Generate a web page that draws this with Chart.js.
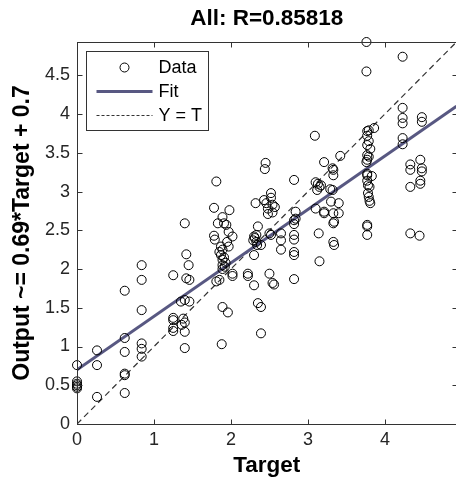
<!DOCTYPE html>
<html><head><meta charset="utf-8">
<script src="https://cdn.jsdelivr.net/npm/chart.js@4"></script>
<style>
html,body{margin:0;padding:0;background:#fff;overflow:hidden;width:456px;height:481px}
#wrap{width:462px;height:481px}
</style></head>
<body><div id="wrap"><canvas id="c" width="462" height="481"></canvas></div>
<script>
const titleText = 'All: R=0.85818';
const xTitle = 'Target';
const yTitle = 'Output ~= 0.69*Target + 0.7';
const legendLabels = ['Data', 'Fit', 'Y = T'];
const axisRange = [0, 4.93];
const xTickValues = [0, 1, 2, 3, 4];
const yTickValues = [0, 0.5, 1, 1.5, 2, 2.5, 3, 3.5, 4, 4.5];
const fitSlope = 0.69;
const fitIntercept = 0.7;

const targets = [
  0,0,0,0,0,0,
  0.26,0.26,0.26,
  0.62,0.62,0.62,0.62,0.62,0.62,
  0.84,0.84,0.84,0.84,0.84,0.84,
  1.25,1.25,1.25,1.25,1.25,
  1.40,1.42,1.45,1.42,1.46,1.35,1.40,1.46,1.38,1.40,1.40,1.40,1.36,
  1.81,1.78,1.98,1.89,1.83,1.91,1.94,1.97,1.78,1.79,2.02,1.87,1.97,1.89,1.87,1.89,1.89,1.89,1.92,2.02,2.02,1.81,1.85,1.89,1.96,1.88,1.91,1.93,1.85,1.95,
  2.32,2.35,2.33,2.31,2.29,2.33,2.30,2.22,2.22,2.30,2.35,2.39,2.39,2.30,2.34,
  2.45,2.44,2.52,2.52,2.43,2.46,2.57,2.54,2.48,2.54,2.50,2.52,2.39,2.50,2.54,2.56,2.48,
  2.65,2.65,2.65,
  2.82,2.84,2.84,2.82,2.82,2.82,2.82,2.82,2.82,2.82,
  3.09,3.10,3.13,3.15,3.12,3.17,3.10,3.14,3.15,3.21,3.21,3.21,
  3.32,3.33,3.32,3.29,3.30,3.40,3.40,3.33,3.33,3.34,3.33,3.34,3.42,3.33,
  3.76,3.76,3.77,3.79,3.86,3.77,3.79,3.77,3.81,3.77,3.79,3.76,3.77,3.77,3.77,3.83,3.77,3.78,3.80,3.78,3.79,3.80,3.81,3.77,3.77,3.77,
  4.23,4.23,4.23,4.23,4.48,4.48,4.23,4.23,4.33,4.46,4.48,4.33,4.48,4.46,4.33,4.46,4.33,4.45
];
const outputs = [
  0.76,0.55,0.52,0.50,0.48,0.46,
  0.95,0.76,0.35,
  1.72,1.11,0.93,0.65,0.63,0.40,
  2.05,1.86,1.47,1.04,0.97,0.87,
  1.92,1.37,1.34,1.24,1.20,
  2.59,2.19,2.05,1.88,1.86,1.58,1.60,1.58,1.36,1.31,1.19,0.98,1.28,
  3.13,2.79,2.76,2.67,2.59,2.59,2.57,2.48,2.43,2.38,2.42,2.29,2.29,2.25,2.18,2.12,2.05,2.00,2.03,1.94,1.91,1.84,1.86,1.51,1.44,1.03,2.15,2.08,2.22,2.35,
  2.85,2.55,2.44,2.40,2.37,2.35,2.18,1.94,1.91,1.79,1.56,1.51,1.17,2.42,2.31,
  3.37,3.29,2.98,2.92,2.89,2.85,2.80,2.83,2.78,2.73,2.46,2.44,2.31,1.94,1.82,1.80,2.71,
  2.46,2.37,2.25,
  3.15,2.74,2.65,2.58,2.44,2.38,2.22,2.18,1.87,2.63,
  3.72,3.12,3.10,3.06,3.02,3.08,2.78,2.46,2.10,2.74,3.38,2.72,
  3.30,3.21,3.02,3.03,2.87,2.85,2.72,2.72,2.59,2.61,2.35,2.31,3.46,3.28,
  4.93,4.55,3.78,3.79,3.82,3.72,3.65,3.60,3.55,3.47,3.45,3.38,3.41,3.23,3.21,3.20,3.14,3.08,3.06,2.98,2.93,2.88,2.85,2.57,2.55,2.44,
  4.74,4.08,3.95,3.88,3.96,3.90,3.69,3.61,3.35,3.41,3.30,3.28,3.26,3.14,3.06,3.10,2.46,2.43
];

const FONT = "'Liberation Sans', Arial, sans-serif";
const points = targets.map((t, i) => ({ x: t, y: outputs[i] }));
const fitLine = axisRange.map(t => ({ x: t, y: fitSlope * t + fitIntercept }));
const idLine = axisRange.map(t => ({ x: t, y: t }));

const fitColor = 'rgb(88,88,130)';
const idColor = '#333';
const idDash = [6, 4];

const framePlugin = {
  id: 'frame',
  beforeDraw(chart) {
    const ctx = chart.ctx;
    ctx.save();
    ctx.fillStyle = '#fff';
    ctx.fillRect(0, 0, chart.width, chart.height);
    ctx.restore();
  },
  afterDraw(chart) {
    const ctx = chart.ctx;
    const ca = chart.chartArea;
    const xs = chart.scales.x, ys = chart.scales.y;
    ctx.save();
    ctx.strokeStyle = '#333';
    ctx.lineWidth = 1;
    const L = Math.round(ca.left) + 0.5, T = Math.round(ca.top) + 0.5;
    const R = Math.round(ca.right) + 0.5, B = Math.round(ca.bottom) + 0.5;
    ctx.strokeRect(L, T, R - L, B - T);
    const tl = 5;
    ctx.beginPath();
    xTickValues.forEach(v => {
      const p = Math.round(xs.getPixelForValue(v)) + 0.5;
      ctx.moveTo(p, B); ctx.lineTo(p, B - tl);
      ctx.moveTo(p, T); ctx.lineTo(p, T + tl);
    });
    yTickValues.forEach(v => {
      const p = Math.round(ys.getPixelForValue(v)) + 0.5;
      ctx.moveTo(L, p); ctx.lineTo(L + tl, p);
      ctx.moveTo(R, p); ctx.lineTo(R - tl, p);
    });
    ctx.stroke();

    // legend
    const bx = Math.round(ca.left) + 9.5, by = Math.round(ca.top) + 9.5, bw = 122, bh = 79;
    ctx.fillStyle = '#fff';
    ctx.fillRect(bx, by, bw, bh);
    ctx.strokeStyle = '#333';
    ctx.strokeRect(bx, by, bw, bh);
    const rows = [by + 16, by + 40, by + 64];
    const sx0 = bx + 10, sx1 = bx + 66;
    const ds = chart.data.datasets;
    ctx.beginPath();
    ctx.arc(bx + 38, rows[0], 4.5, 0, Math.PI * 2);
    ctx.strokeStyle = '#000';
    ctx.lineWidth = 1;
    ctx.stroke();
    ctx.beginPath();
    ctx.strokeStyle = fitColor; ctx.lineWidth = 3;
    ctx.moveTo(sx0, rows[1]); ctx.lineTo(sx1, rows[1]); ctx.stroke();
    ctx.beginPath();
    ctx.strokeStyle = idColor; ctx.lineWidth = 1; ctx.setLineDash([3, 2]);
    ctx.moveTo(sx0, rows[2]); ctx.lineTo(sx1, rows[2]); ctx.stroke();
    ctx.setLineDash([]);
    ctx.fillStyle = '#000';
    ctx.font = '18px ' + FONT;
    ctx.textBaseline = 'middle';
    ctx.textAlign = 'left';
    ds.forEach((d, i) => ctx.fillText(d.label, bx + 72, rows[i] + 1));
    ctx.restore();
  }
};

new Chart(document.getElementById('c'), {
  type: 'scatter',
  data: {
    datasets: [
      { label: legendLabels[0], data: points, pointRadius: 4.5, pointHoverRadius: 4.5,
        pointBorderColor: '#000', pointBackgroundColor: 'rgba(0,0,0,0)', pointBorderWidth: 1,
        showLine: false, clip: false },
      { label: legendLabels[1], data: fitLine, showLine: true, borderColor: fitColor, borderWidth: 3,
        pointRadius: 0, fill: false },
      { label: legendLabels[2], data: idLine, showLine: true, borderColor: idColor, borderWidth: 1.2,
        borderDash: idDash, pointRadius: 0, fill: false }
    ]
  },
  options: {
    responsive: false,
    animation: false,
    events: [],
    layout: { padding: { left: 0, right: 4, top: 0, bottom: 0 } },
    plugins: {
      legend: { display: false },
      tooltip: { enabled: false },
      title: {
        display: true, text: titleText, fullSize: false, color: '#000',
        font: { family: FONT, size: 22.5, weight: 'bold', lineHeight: 1.2 },
        padding: { top: 5, bottom: 10 }
      }
    },
    scales: {
      x: {
        type: 'linear', min: axisRange[0], max: axisRange[1],
        afterBuildTicks: s => { s.ticks = xTickValues.map(v => ({ value: v })); },
        afterFit: s => { s.height = 57; },
        grid: { display: false, drawTicks: false },
        border: { display: false },
        ticks: { color: '#262626', padding: 5, font: { family: FONT, size: 18 }, callback: v => String(v) },
        title: { display: true, text: xTitle, color: '#000', font: { family: FONT, size: 22.5, weight: 'bold' }, padding: { top: 0, bottom: 2 } }
      },
      y: {
        type: 'linear', min: axisRange[0], max: axisRange[1],
        afterBuildTicks: s => { s.ticks = yTickValues.map(v => ({ value: v })); },
        afterFit: s => { s.width = 77; },
        grid: { display: false, drawTicks: false },
        border: { display: false },
        ticks: { color: '#262626', padding: 7, font: { family: FONT, size: 18 }, callback: v => String(v) },
        title: { display: true, text: yTitle, color: '#000', font: { family: FONT, size: 23, weight: 'bold' }, padding: { top: 9, bottom: 0 } }
      }
    }
  },
  plugins: [framePlugin]
});
</script>
</body></html>
